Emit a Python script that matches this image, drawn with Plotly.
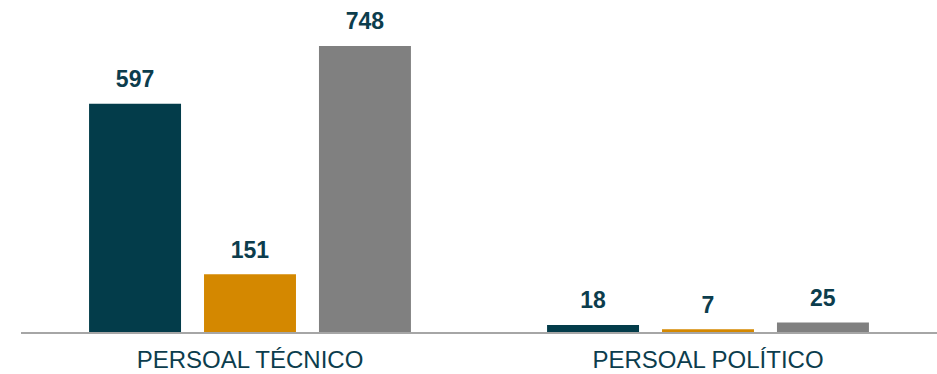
import plotly.graph_objects as go

categories = ["PERSOAL TÉCNICO", "PERSOAL POLÍTICO"]
series_names = ["Serie 1", "Serie 2", "Serie 3"]
values_s1 = [597, 18]
values_s2 = [151, 7]
values_s3 = [748, 25]
colors = ["#033C4A", "#D48800", "#808080"]

fig = go.Figure()
for name, vals, col in zip(series_names, [values_s1, values_s2, values_s3], colors):
    fig.add_trace(go.Bar(
        x=categories, y=vals, name=name,
        marker=dict(color=col, line=dict(width=0)),
        text=[f"<span style='font-size:23px'><b>{v}</b></span><br> " for v in vals],
        textposition="outside",
        constraintext="none",
        textfont=dict(family="Liberation Sans, Arial", size=9, color="#0C3D4D"),
        cliponaxis=False,
        hoverinfo="skip",
    ))

fig.update_layout(
    width=937, height=374,
    margin=dict(l=21, r=0, t=0, b=42, autoexpand=False),
    paper_bgcolor="white", plot_bgcolor="white",
    barmode="group", bargap=0.247, bargroupgap=0.2,
    showlegend=False,
    xaxis=dict(showline=True, linecolor="#A6A6A6", linewidth=2, ticks="",
               automargin=False, ticklabelstandoff=5,
               tickfont=dict(family="Liberation Sans, Arial", size=24, color="#0C3D4D"),
               showgrid=False),
    yaxis=dict(range=[0, 868], visible=False, showgrid=False, automargin=False),
)

fig.write_html("out.html", config={"displayModeBar": False},
               post_script="document.body.style.margin='0';")
